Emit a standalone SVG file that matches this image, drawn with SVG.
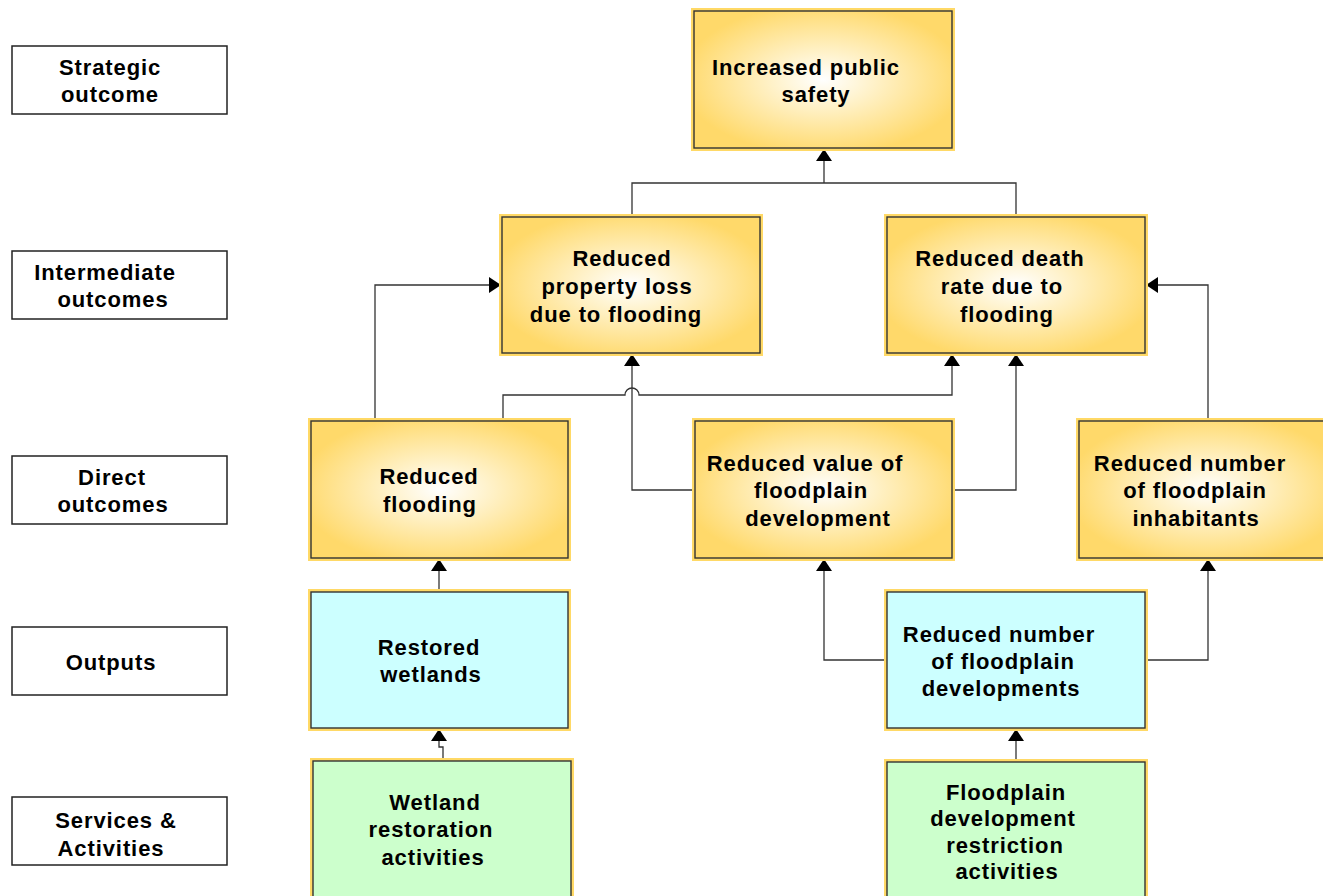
<svg xmlns="http://www.w3.org/2000/svg" width="1323" height="896" viewBox="0 0 1323 896">
  <defs>
    <radialGradient id="gold" cx="0.5" cy="0.5" r="0.55">
      <stop offset="0" stop-color="#FFFFFF"/>
      <stop offset="0.3" stop-color="#FFF4D2"/>
      <stop offset="1" stop-color="#FFD96A"/>
    </radialGradient>
    <marker id="arrow" markerUnits="userSpaceOnUse" markerWidth="13" markerHeight="16" refX="12" refY="8" orient="auto">
      <path d="M0,0 L12,8 L0,16 z" fill="#000"/>
    </marker>
  </defs>
  <style>
    text { font-family: "Liberation Sans", Arial, sans-serif; font-weight: bold; font-size: 22px; letter-spacing: 0.9px; fill: #000; text-anchor: middle; }
    .glow { fill: #FFD966; }
    .box { stroke: #333; stroke-width: 1.4; }
    .gold { fill: url(#gold); }
    .cyan { fill: #CCFFFF; }
    .green { fill: #CCFFCC; }
    .label { fill: #fff; stroke: #222; stroke-width: 1.5; }
    .conn { fill: none; stroke: #333; stroke-width: 1.3; }
    .arr { marker-end: url(#arrow); }
  </style>

  <rect width="1323" height="896" fill="#fff"/>

  <!-- level labels -->
  <g id="label-strategic">
    <rect class="label" x="12" y="46" width="215" height="68"/>
    <text x="110" y="75">Strategic</text>
    <text x="110" y="102">outcome</text>
  </g>
  <g id="label-intermediate">
    <rect class="label" x="12" y="251" width="215" height="68"/>
    <text x="105" y="280">Intermediate</text>
    <text x="113" y="307">outcomes</text>
  </g>
  <g id="label-direct">
    <rect class="label" x="12" y="456" width="215" height="68"/>
    <text x="112" y="485">Direct</text>
    <text x="113" y="512">outcomes</text>
  </g>
  <g id="label-outputs">
    <rect class="label" x="12" y="627" width="215" height="68"/>
    <text x="111" y="670">Outputs</text>
  </g>
  <g id="label-services">
    <rect class="label" x="12" y="797" width="215" height="68"/>
    <text x="116" y="828">Services &amp;</text>
    <text x="111" y="856">Activities</text>
  </g>

  <!-- connectors -->
  <g id="connectors">
    <path class="conn" d="M632,217 V183 H1016 V217"/>
    <path class="conn arr" d="M824,183 V149"/>
    <path class="conn arr" d="M375,421 V285 H501"/>
    <path class="conn arr" d="M1208,421 V285 H1146"/>
    <path class="conn arr" d="M503,421 V395 H625 A7,7 0 0 1 639,395 H952 V354"/>
    <path class="conn arr" d="M695,490 H632 V354"/>
    <path class="conn arr" d="M952,490 H1016 V354"/>
    <path class="conn arr" d="M439,592 V559"/>
    <path class="conn arr" d="M443,761 V747 H439 V729"/>
    <path class="conn arr" d="M887,660 H824 V559"/>
    <path class="conn arr" d="M1145,660 H1208 V559"/>
    <path class="conn arr" d="M1016,762 V729"/>
  </g>

  <!-- strategic outcome -->
  <g id="node-public-safety">
    <rect class="glow" x="691" y="8" width="264" height="143"/>
    <rect class="box gold" x="694" y="11" width="258" height="137"/>
    <text x="806" y="75">Increased public</text>
    <text x="816" y="102">safety</text>
  </g>

  <!-- intermediate outcomes -->
  <g id="node-property-loss">
    <rect class="glow" x="499" y="214" width="264" height="142"/>
    <rect class="box gold" x="502" y="217" width="258" height="136"/>
    <text x="622" y="266">Reduced</text>
    <text x="617" y="294">property loss</text>
    <text x="616" y="322">due to flooding</text>
  </g>
  <g id="node-death-rate">
    <rect class="glow" x="884" y="214" width="264" height="142"/>
    <rect class="box gold" x="887" y="217" width="258" height="136"/>
    <text x="1000" y="266">Reduced death</text>
    <text x="1002" y="294">rate due to</text>
    <text x="1007" y="322">flooding</text>
  </g>

  <!-- direct outcomes -->
  <g id="node-reduced-flooding">
    <rect class="glow" x="308" y="418" width="263" height="143"/>
    <rect class="box gold" x="311" y="421" width="257" height="137"/>
    <text x="429" y="484">Reduced</text>
    <text x="430" y="512">flooding</text>
  </g>
  <g id="node-floodplain-value">
    <rect class="glow" x="692" y="418" width="263" height="143"/>
    <rect class="box gold" x="695" y="421" width="257" height="137"/>
    <text x="805" y="471">Reduced value of</text>
    <text x="811" y="498">floodplain</text>
    <text x="818" y="526">development</text>
  </g>
  <g id="node-inhabitants">
    <rect class="glow" x="1076" y="418" width="263" height="143"/>
    <rect class="box gold" x="1079" y="421" width="257" height="137"/>
    <text x="1190" y="471">Reduced number</text>
    <text x="1195" y="498">of floodplain</text>
    <text x="1196" y="526">inhabitants</text>
  </g>

  <!-- outputs -->
  <g id="node-restored-wetlands">
    <rect class="glow" x="308" y="589" width="263" height="142"/>
    <rect class="box cyan" x="311" y="592" width="257" height="136"/>
    <text x="429" y="655">Restored</text>
    <text x="431" y="682">wetlands</text>
  </g>
  <g id="node-floodplain-developments">
    <rect class="glow" x="884" y="589" width="264" height="142"/>
    <rect class="box cyan" x="887" y="592" width="258" height="136"/>
    <text x="999" y="642">Reduced number</text>
    <text x="1003" y="669">of floodplain</text>
    <text x="1001" y="696">developments</text>
  </g>

  <!-- services and activities -->
  <g id="node-wetland-activities">
    <rect class="glow" x="310" y="758" width="264" height="150"/>
    <rect class="box green" x="313" y="761" width="258" height="150"/>
    <text x="435" y="810">Wetland</text>
    <text x="431" y="837">restoration</text>
    <text x="433" y="865">activities</text>
  </g>
  <g id="node-restriction-activities">
    <rect class="glow" x="884" y="759" width="264" height="150"/>
    <rect class="box green" x="887" y="762" width="258" height="150"/>
    <text x="1006" y="800">Floodplain</text>
    <text x="1003" y="826">development</text>
    <text x="1005" y="853">restriction</text>
    <text x="1007" y="879">activities</text>
  </g>
</svg>
